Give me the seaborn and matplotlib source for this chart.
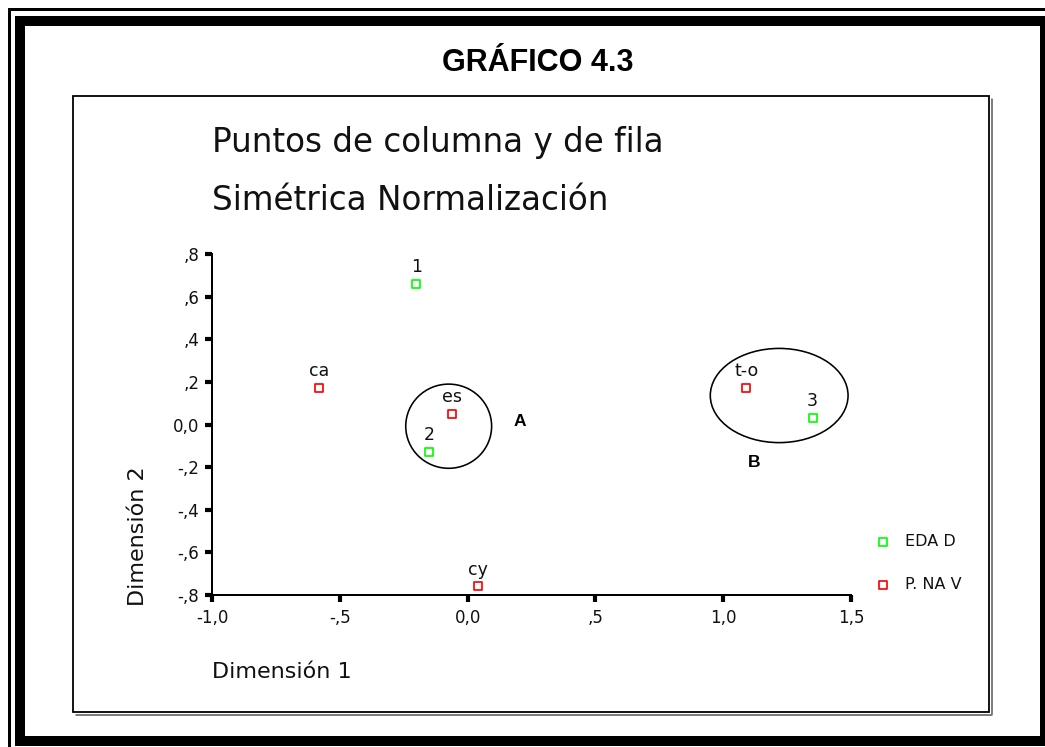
import numpy as np
import pandas as pd
import seaborn as sns
import matplotlib
matplotlib.use("Agg")
import matplotlib.pyplot as plt
from matplotlib.patches import Rectangle, Ellipse
from matplotlib.lines import Line2D

# ---------------- data ----------------
etiquetas_edad = ["1", "2", "3"]
dim1_edad = [-0.20, -0.15, 1.35]
dim2_edad = [0.66, -0.13, 0.03]

etiquetas_pnav = ["ca", "es", "t-o", "cy"]
dim1_pnav = [-0.58, -0.06, 1.09, 0.04]
dim2_pnav = [0.17, 0.05, 0.17, -0.76]

series = ["EDA D", "P. NA V"]
colores = ["#00ff00", "#ff0000"]

xticks = [-1.0, -0.5, 0.0, 0.5, 1.0, 1.5]
xticklabels = ["-1,0", "-,5", "0,0", ",5", "1,0", "1,5"]
yticks = [0.8, 0.6, 0.4, 0.2, 0.0, -0.2, -0.4, -0.6, -0.8]
yticklabels = [",8", ",6", ",4", ",2", "0,0", "-,2", "-,4", "-,6", "-,8"]

grupos = ["A", "B"]
grupo_centro_x = [-0.074, 1.219]
grupo_centro_y = [-0.008, 0.136]
grupo_ancho = [0.336, 0.539]
grupo_alto = [0.395, 0.442]
grupo_label_x = [0.203, 1.121]
grupo_label_y = [0.016, -0.177]

titulo = "GRÁFICO 4.3"
subtitulo1 = "Puntos de columna y de fila"
subtitulo2 = "Simétrica Normalización"
xlabel = "Dimensión 1"
ylabel = "Dimensión 2"

# ---------------- figure ----------------
sns.set_theme(style="white")
plt.rcParams["font.family"] = ["DejaVu Sans"]
plt.rcParams["text.color"] = "black"

W, H = 1045, 747
fig = plt.figure(figsize=(W / 100, H / 100), dpi=100)
fig.patch.set_facecolor("white")


def fx(x):
    return x / W


def fy(y):
    return 1 - y / H


PT = 0.72  # points per pixel
TXT = "#111111"

# axes box: x -1.0 at px 212, 1.5 at px 851; y 0.8 at px 254, -0.8 at px 595
ax = fig.add_axes([fx(212), fy(595), (851 - 212) / W, (595 - 254) / H])
ax.set_facecolor("white")

df_edad = pd.DataFrame({"d1": dim1_edad, "d2": dim2_edad, "lab": etiquetas_edad})
df_pnav = pd.DataFrame({"d1": dim1_pnav, "d2": dim2_pnav, "lab": etiquetas_pnav})

for df, nombre, col in [(df_edad, series[0], colores[0]), (df_pnav, series[1], colores[1])]:
    sns.scatterplot(data=df, x="d1", y="d2", ax=ax, marker="s", s=27,
                    facecolor="white", edgecolor=col, linewidth=1.7 * PT,
                    label=nombre, clip_on=False, zorder=3)
    for _, r in df.iterrows():
        ax.annotate(r["lab"], (r["d1"], r["d2"]), xytext=(0, 8.5),
                    textcoords="offset points", ha="center", va="baseline",
                    fontsize=12.5, color=TXT)

for i in range(len(grupos)):
    ax.add_patch(Ellipse((grupo_centro_x[i], grupo_centro_y[i]), grupo_ancho[i], grupo_alto[i],
                         fill=False, edgecolor="black", linewidth=1.6 * PT, clip_on=False))
    ax.text(grupo_label_x[i], grupo_label_y[i], grupos[i], ha="center", va="center",
            fontsize=12.5, fontweight="bold", family=["Liberation Sans"], color="black")

ax.set_xlim(-1.0, 1.5)
ax.set_ylim(-0.8, 0.8)
ax.set_xticks(xticks)
ax.set_xticklabels(xticklabels)
ax.set_yticks(yticks)
ax.set_yticklabels(yticklabels)
ax.set_xlabel("")
ax.set_ylabel("")
for s in ["top", "right"]:
    ax.spines[s].set_visible(False)
for s in ["left", "bottom"]:
    ax.spines[s].set_linewidth(2 * PT)
    ax.spines[s].set_color("black")
ax.tick_params(axis="both", which="major", bottom=True, left=True, direction="out",
               length=5, width=3, color="black", labelsize=12, labelcolor=TXT)
ax.tick_params(axis="y", pad=4)
ax.tick_params(axis="x", pad=5)

ax.legend(loc="center left", bbox_to_anchor=(fx(875), fy(563)), bbox_transform=fig.transFigure,
          frameon=False, borderpad=0, borderaxespad=0, handlelength=1.0, handletextpad=0.9,
          labelspacing=1.75, fontsize=11.5, labelcolor=TXT)

# texts
fig.text(fx(538), fy(71), titulo, ha="center", va="baseline", fontsize=22,
         fontweight="bold", family=["Liberation Sans"], color="black")
fig.text(fx(212), fy(152), subtitulo1, ha="left", va="baseline", fontsize=23.5, color=TXT)
fig.text(fx(212), fy(210), subtitulo2, ha="left", va="baseline", fontsize=23.5, color=TXT)
fig.text(fx(212), fy(678), xlabel, ha="left", va="baseline", fontsize=16, color=TXT)
fig.text(fx(138), fy(536), ylabel, ha="center", va="center", rotation=90, fontsize=16,
         color=TXT)

# frames
def rect(x0, y0, x1, y1, lw_px, color="black"):
    fig.add_artist(Rectangle((fx(x0), fy(y1)), (x1 - x0) / W, (y1 - y0) / H,
                             transform=fig.transFigure, fill=False, edgecolor=color,
                             linewidth=lw_px * PT, clip_on=False))

rect(8.5, 8.5, 1070, 770, 3)
rect(20, 21, 1045, 741, 10)
rect(73, 96, 989, 712, 1.8)
fig.add_artist(Line2D([fx(992), fx(992)], [fy(99), fy(714)], transform=fig.transFigure,
                      color="#555555", linewidth=1.5 * PT))
fig.add_artist(Line2D([fx(76), fx(992)], [fy(714.5), fy(714.5)], transform=fig.transFigure,
                      color="#555555", linewidth=1.5 * PT))

fig.savefig("out.png", dpi=100, facecolor="white")
